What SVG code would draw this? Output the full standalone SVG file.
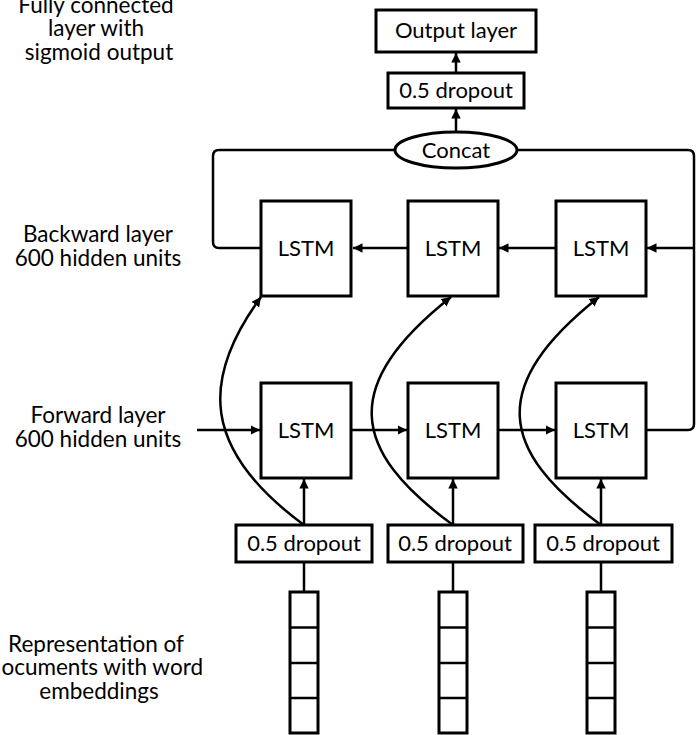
<svg xmlns="http://www.w3.org/2000/svg" width="697" height="735" viewBox="0 0 697 735">
<style>
.box{fill:#fff;stroke:#000;stroke-width:3}
.ln{fill:none;stroke:#000;stroke-width:2.5}
.t{font-family:Lato,"Liberation Sans",sans-serif;font-size:22px;fill:#000;text-anchor:middle}
.lbl{font-family:Lato,"Liberation Sans",sans-serif;font-size:22.5px;fill:#000;text-anchor:middle}
</style>
<defs>
<marker id="ah" viewBox="0 0 10 10" refX="10" refY="5" markerWidth="3.8" markerHeight="3.8" orient="auto" markerUnits="strokeWidth">
<path d="M0,0 L10,5 L0,10 z" fill="#000"/>
</marker>
</defs>
<rect width="697" height="735" fill="#fff"/>

<g id="labels">
<text class="lbl" x="96" y="13">Fully connected</text>
<text class="lbl" x="96" y="36">layer with</text>
<text class="lbl" x="99" y="60">sigmoid output</text>
<text class="lbl" x="98" y="242">Backward layer</text>
<text class="lbl" x="98" y="266">600 hidden units</text>
<text class="lbl" x="98" y="423">Forward layer</text>
<text class="lbl" x="98" y="447">600 hidden units</text>
<text class="lbl" x="96" y="652">Representation of</text>
<text class="lbl" x="203" y="675" style="text-anchor:end">ocuments with word</text>
<text class="lbl" x="99" y="699">embeddings</text>
</g>

<g id="connectors">
<line class="ln" x1="456" y1="132" x2="456" y2="109" marker-end="url(#ah)"/>
<line class="ln" x1="456" y1="73" x2="456" y2="53" marker-end="url(#ah)"/>
<path class="ln" d="M261,248 H219 Q213,248 213,242 V156 Q213,150 219,150 H395"/>
<path class="ln" d="M646,430 H688 Q694,430 694,424 V156 Q694,150 688,150 H517"/>
<line class="ln" x1="694" y1="248" x2="647" y2="248" marker-end="url(#ah)"/>
<line class="ln" x1="556" y1="248" x2="499" y2="248" marker-end="url(#ah)"/>
<line class="ln" x1="408" y1="248" x2="353" y2="248" marker-end="url(#ah)"/>
<line class="ln" x1="197" y1="430" x2="260" y2="430" marker-end="url(#ah)"/>
<line class="ln" x1="351" y1="430" x2="407" y2="430" marker-end="url(#ah)"/>
<line class="ln" x1="498" y1="430" x2="555" y2="430" marker-end="url(#ah)"/>
<line class="ln" x1="304" y1="525" x2="304" y2="479" marker-end="url(#ah)"/>
<line class="ln" x1="453" y1="525" x2="453" y2="479" marker-end="url(#ah)"/>
<line class="ln" x1="601" y1="525" x2="601" y2="479" marker-end="url(#ah)"/>
<path class="ln" d="M304,525 C202,450 200,380 261,297" marker-end="url(#ah)"/>
<path class="ln" d="M453,525 C350,450 340,385 451,297" marker-end="url(#ah)"/>
<path class="ln" d="M601,525 C498,450 488,385 599,297" marker-end="url(#ah)"/>
<line class="ln" x1="304" y1="562" x2="304" y2="592"/>
<line class="ln" x1="453" y1="562" x2="453" y2="592"/>
<line class="ln" x1="601" y1="562" x2="601" y2="592"/>
</g>

<g id="output">
<rect class="box" x="376" y="10" width="160" height="42"/>
<text class="t" x="456" y="38">Output layer</text>
</g>
<g id="dropout-top">
<rect class="box" x="388" y="73" width="136" height="35"/>
<text class="t" x="456" y="98">0.5 dropout</text>
</g>
<g id="concat">
<ellipse class="box" cx="456" cy="150" rx="61" ry="18"/>
<text class="t" x="456" y="158">Concat</text>
</g>

<g id="lstm-b1"><rect class="box" x="261" y="201" width="90" height="95"/><text class="t" x="306" y="256">LSTM</text></g>
<g id="lstm-b2"><rect class="box" x="408" y="201" width="90" height="95"/><text class="t" x="453" y="256">LSTM</text></g>
<g id="lstm-b3"><rect class="box" x="556" y="201" width="90" height="95"/><text class="t" x="601" y="256">LSTM</text></g>

<g id="lstm-f1"><rect class="box" x="261" y="383" width="90" height="95"/><text class="t" x="306" y="438">LSTM</text></g>
<g id="lstm-f2"><rect class="box" x="408" y="383" width="90" height="95"/><text class="t" x="453" y="438">LSTM</text></g>
<g id="lstm-f3"><rect class="box" x="556" y="383" width="90" height="95"/><text class="t" x="601" y="438">LSTM</text></g>

<g id="dropout-1"><rect class="box" x="236" y="525" width="136" height="37"/><text class="t" x="304" y="551">0.5 dropout</text></g>
<g id="dropout-2"><rect class="box" x="388" y="525" width="135" height="37"/><text class="t" x="455" y="551">0.5 dropout</text></g>
<g id="dropout-3"><rect class="box" x="535" y="525" width="137" height="37"/><text class="t" x="603" y="551">0.5 dropout</text></g>

<g id="emb-1">
<rect class="box" x="290" y="592" width="28" height="141"/>
<path class="ln" d="M290,627.5 H318 M290,663 H318 M290,698 H318"/>
</g>
<g id="emb-2">
<rect class="box" x="439" y="592" width="28" height="141"/>
<path class="ln" d="M439,627.5 H467 M439,663 H467 M439,698 H467"/>
</g>
<g id="emb-3">
<rect class="box" x="587" y="592" width="28" height="141"/>
<path class="ln" d="M587,627.5 H615 M587,663 H615 M587,698 H615"/>
</g>
</svg>
